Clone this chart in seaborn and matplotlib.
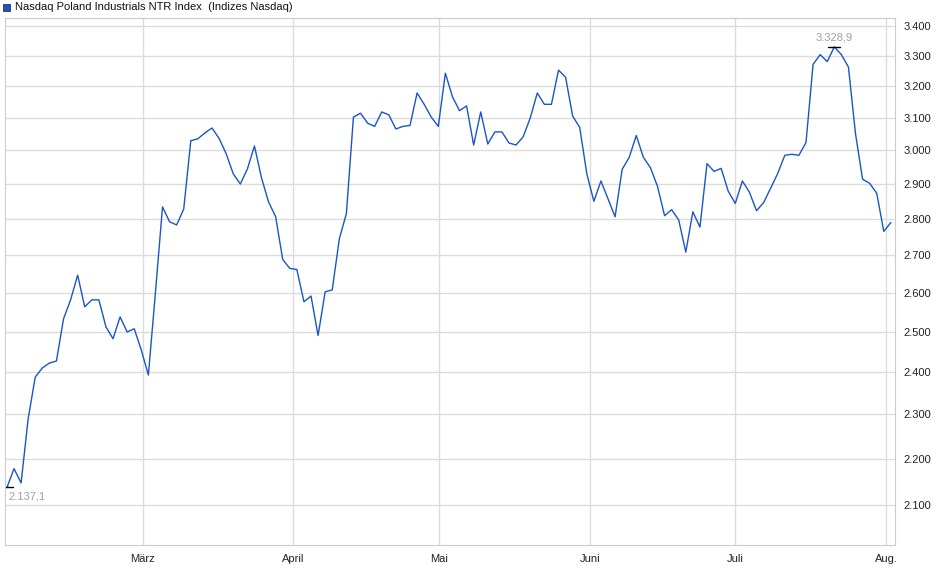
import numpy as np
import pandas as pd
import matplotlib
matplotlib.use("Agg")
import matplotlib.pyplot as plt
import matplotlib.ticker as mticker
import seaborn as sns

# ── Data ───────────────────────────────────────────────────────────────────────
title = "Nasdaq Poland Industrials NTR Index  (Indizes Nasdaq)"
values = [
    2137.1, 2178, 2147, 2290, 2388, 2410, 2422, 2427, 2532, 2581, 2646, 2563,
    2581, 2581, 2512, 2482, 2537, 2499, 2507, 2454, 2393, 2600, 2834, 2792,
    2783, 2828, 3029, 3035, 3053, 3068, 3036, 2990, 2930, 2900, 2944, 3013,
    2918, 2848, 2806, 2688, 2664, 2661, 2576, 2591, 2490, 2602, 2607, 2744,
    2815, 3102, 3114, 3083, 3073, 3118, 3109, 3065, 3073, 3076, 3178, 3142,
    3102, 3073, 3242, 3166, 3122, 3137, 3016, 3118, 3019, 3056, 3056, 3022,
    3016, 3041, 3099, 3178, 3142, 3142, 3252, 3229, 3105, 3070, 2930, 2850,
    2909, 2857, 2806, 2943, 2979, 3045, 2979, 2948, 2893, 2809, 2826, 2797,
    2708, 2820, 2777, 2960, 2937, 2946, 2879, 2844, 2909, 2876, 2823, 2846,
    2888, 2931, 2985, 2988, 2985, 3024, 3271, 3303, 3280, 3328.9, 3303, 3262,
    3050, 2914, 2902, 2873, 2765, 2790,
]
dates = pd.date_range("2023-02-01", "2023-08-02", periods=len(values))
y_ticks = [2100, 2200, 2300, 2400, 2500, 2600, 2700, 2800, 2900, 3000, 3100, 3200, 3300, 3400]
month_ticks = pd.to_datetime(["2023-03-01", "2023-04-01", "2023-05-01", "2023-06-01",
                              "2023-07-01", "2023-08-01"])
month_labels = ["März", "April", "Mai", "Juni", "Juli", "Aug."]

df = pd.DataFrame({"date": dates, "value": values})


def de_fmt(v, dec=0):
    # German number format: 3.328,9
    s = f"{v:,.{dec}f}"
    return s.replace(",", "X").replace(".", ",").replace("X", ".")


# ── Plot ───────────────────────────────────────────────────────────────────────
sns.set_style("white")
plt.rcParams["font.family"] = ["Liberation Sans", "DejaVu Sans"]

fig = plt.figure(figsize=(9.4, 5.79), dpi=100)
ax = fig.add_axes([5 / 940, 1 - 545 / 579, 890 / 940, 527 / 579])

line_col = "#1a56c4"
sns.lineplot(data=df, x="date", y="value", ax=ax, color=line_col, linewidth=1.0)

ax.set_yscale("log")
ax.set_ylim(2017, 3427)
day = pd.Timedelta(days=1)
ax.set_xlim(dates[0] - 0.4 * day, pd.Timestamp("2023-08-01") + 1.85 * day)

ax.yaxis.set_major_locator(mticker.FixedLocator(y_ticks))
ax.yaxis.set_minor_locator(mticker.NullLocator())
ax.yaxis.set_major_formatter(mticker.FuncFormatter(lambda v, p: de_fmt(v) if v < 1e4 else ""))
ax.yaxis.tick_right()
ax.set_xticks(month_ticks)
ax.set_xticklabels(month_labels)

ax.grid(True, color="#dcdcdc", linewidth=1)
ax.tick_params(axis="y", labelsize=8, length=0, pad=6, labelcolor="#222222")
ax.tick_params(axis="x", labelsize=8, length=3, color="#cccccc", labelcolor="#222222")
for s in ax.spines.values():
    s.set_color("#cccccc")
ax.set_xlabel("")
ax.set_ylabel("")

# high / low markers
i_max = int(np.argmax(values))
i_min = int(np.argmin(values))
for i in (i_max, i_min):
    ax.plot([dates[i] - 1.2 * day, dates[i] + 1.2 * day], [values[i]] * 2, color="black", lw=1)
ax.annotate(de_fmt(values[i_max], 1), (dates[i_max], values[i_max]), xytext=(0, 3),
            textcoords="offset points", ha="center", va="bottom", fontsize=8, color="#a0a0a0")
ax.annotate(de_fmt(values[i_min], 1), (dates[i_min], values[i_min]), xytext=(1, -3),
            textcoords="offset points", ha="left", va="top", fontsize=8, color="#a0a0a0",
            annotation_clip=False)

# legend-style title
fig.patches.append(plt.Rectangle((3 / 940, 1 - 11 / 579), 7 / 940, 7 / 579, transform=fig.transFigure,
                                 facecolor=line_col, edgecolor="#333333", lw=0.6))
fig.text(15 / 940, 1 - 6.5 / 579, title, fontsize=8, va="center", ha="left", color="#111111")

fig.savefig("out.png", dpi=100)
